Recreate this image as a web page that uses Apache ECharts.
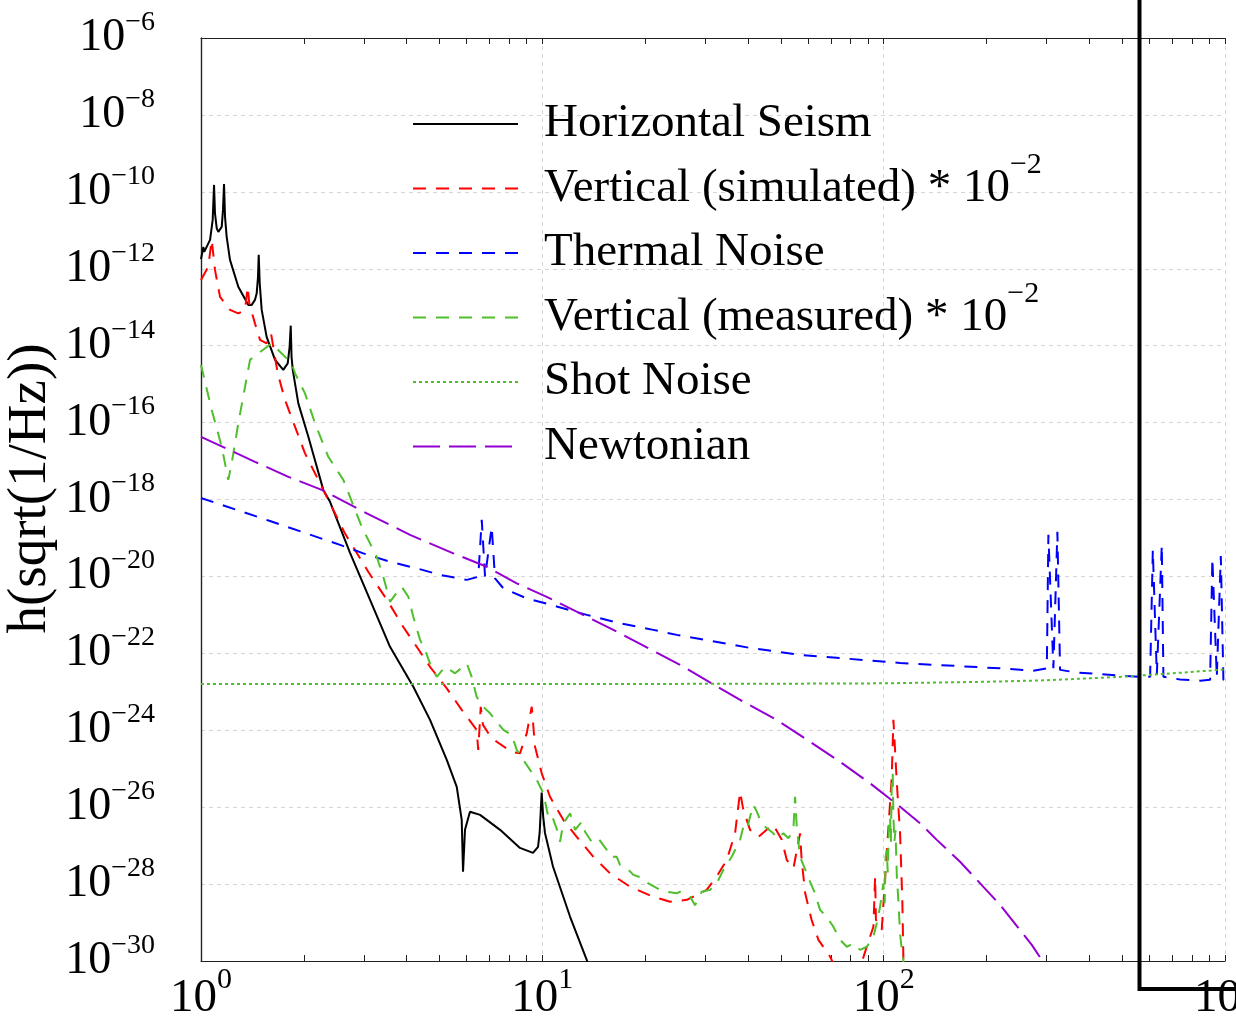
<!DOCTYPE html>
<html><head><meta charset="utf-8">
<script src="https://cdn.jsdelivr.net/npm/echarts@6/dist/echarts.min.js"></script>
<style>html,body{margin:0;padding:0;background:#fff}#c{width:1236px;height:1019px}</style>
</head><body><div id="c"></div>
<script>
// Frequencies in Hz, amplitudes given as log10 of h(sqrt(1/Hz)) values
const seismFreq = [1.000,1.016,1.022,1.063,1.082,1.0866,1.092,1.099,1.112,1.124,1.150,1.160,1.168,1.176,1.189,1.216,1.286,1.376,1.408,1.439,1.456,1.469,1.476,1.486,1.506,1.557,1.648,1.742,1.795,1.818,1.832,1.842,1.857,1.928,2.063,2.282,2.388,2.733,3.128,3.579,4.188,4.688,5.248,5.614,5.805,5.857,5.935,6.138,6.57,7.52,8.6,9.39,9.714,9.82,9.955,10.06,10.18,10.75,12.06,13.49,14.0];
const seismLog  = [-11.75,-11.43,-11.56,-11.25,-10.73,-10.30,-9.82,-10.56,-10.95,-11.04,-10.91,-10.47,-9.80,-10.65,-11.17,-11.77,-12.47,-12.94,-12.94,-12.81,-12.64,-12.21,-11.64,-12.38,-13.07,-13.77,-14.37,-14.63,-14.46,-14.03,-13.48,-14.29,-14.63,-15.50,-16.37,-17.75,-18.06,-19.39,-20.61,-21.83,-22.87,-23.73,-24.77,-25.47,-26.33,-27.68,-26.59,-26.12,-26.20,-26.59,-27.06,-27.19,-27.03,-26.67,-25.62,-26.25,-26.67,-27.55,-28.85,-29.97,-30.4];

const vsimFreq = [1.000,1.050,1.075,1.099,1.137,1.216,1.286,1.346,1.370,1.385,1.439,1.489,1.557,1.604,1.622,1.678,1.762,1.886,2.017,2.282,2.388,2.640,3.090,3.536,3.910,4.285,4.688,5.248,5.805,6.42,6.49,6.60,6.70,6.95,7.35,8.13,8.60,9.00,9.31,9.52,9.96,10.53,11.52,12.61,14.11,15.79,18.07,21.14,23.67,26.5,30.3,32.4,34.7,36.7,37.96,38.8,40.6,42.96,45.95,47.5,50.3,52.0,54.4,56.9,57.5,58.9,61.5,64.4,69.7,79.7,89.2,93.3,94.4,94.9,98.7,105.6,106.8,109.3,111.7,113.4,114.2,114.6];
const vsimLog  = [-12.29,-11.95,-11.25,-12.03,-12.73,-13.07,-13.16,-13.07,-12.47,-12.90,-13.42,-13.85,-13.94,-13.68,-13.94,-14.72,-15.41,-16.11,-16.80,-17.75,-18.10,-18.88,-19.88,-20.66,-21.31,-21.83,-22.35,-22.91,-23.47,-23.99,-24.51,-23.39,-23.86,-24.08,-24.30,-24.56,-24.60,-24.08,-23.39,-24.43,-25.12,-25.73,-26.33,-26.77,-27.29,-27.72,-28.07,-28.33,-28.46,-28.41,-28.15,-27.81,-27.37,-26.68,-25.60,-26.07,-26.59,-26.77,-26.55,-26.46,-26.85,-27.37,-27.59,-26.68,-27.37,-28.24,-28.93,-29.45,-29.89,-31.0,-29.63,-29.11,-27.81,-28.93,-29.19,-25.21,-23.73,-25.38,-26.68,-28.41,-29.89,-31.0];

const thermFreq = [1.000,1.593,2.555,2.99,3.579,4.285,5.015,6.004,6.49,6.645,6.795,7.107,7.268,7.687,9.0,11.02,13.49,16.89,21.14,24.76,40.6,56.9,111.7,219.3,274.5,300.6,303.8,314.2,322.8,328.7,367.9,430.5,515.6,563.9,603.4,614.5,631.3,652.9,660,738.5,845.3,904.4,918.3,946.2,972.1,989.3,1000];
const thermLog  = [-17.96,-18.56,-19.18,-19.40,-19.62,-19.79,-19.96,-20.09,-20.01,-18.53,-20.01,-18.71,-20.05,-20.31,-20.57,-20.78,-21.00,-21.22,-21.39,-21.52,-21.86,-22.04,-22.25,-22.39,-22.45,-22.39,-18.92,-22.39,-18.84,-22.43,-22.50,-22.54,-22.59,-22.61,-22.61,-19.31,-22.56,-19.18,-22.61,-22.68,-22.71,-22.69,-19.53,-22.61,-19.47,-22.69,-22.70];

const vmeasFreq = [1.000,1.075,1.150,1.202,1.230,1.286,1.346,1.392,1.472,1.611,1.704,1.844,1.886,2.017,2.158,2.36,2.612,2.957,3.091,3.272,3.421,3.579,3.702,3.873,4.05,4.188,4.383,4.532,4.688,4.904,5.187,5.365,5.549,6.004,6.210,6.42,6.715,7.028,7.687,8.134,8.414,8.797,9.204,9.629,10.07,10.41,10.65,11.14,11.27,11.52,12.06,12.47,13.05,13.34,13.95,14.59,15.44,15.79,16.52,16.89,17.68,18.48,19.77,20.44,22.13,23.15,24.76,25.32,27.09,28.02,29.31,31.0,32.43,33.91,35.88,37.96,38.81,39.71,40.6,41.51,42.48,43.44,44.93,47.52,48.62,50.83,52.58,54.38,55.01,55.64,56.89,59.52,60.87,62.95,65.11,68.12,71.22,74.53,77.98,81.53,85.3,89.22,93.29,95.46,97.6,99.8,100.7,101.3,102.1,102.8,103.6,104.4,105.0,105.6,106.3,106.8,107.5,108.3,109.3,110.4,111.7,113.0,114.2,115.0];
const vmeasLog  = [-14.50,-15.67,-16.63,-17.49,-17.06,-16.02,-15.07,-14.37,-14.20,-13.94,-14.16,-14.46,-14.72,-15.24,-16.02,-16.89,-17.49,-18.71,-19.05,-19.49,-20.01,-20.66,-20.48,-20.27,-20.53,-21.05,-21.65,-21.91,-22.26,-22.61,-22.35,-22.43,-22.52,-22.26,-22.61,-23.13,-23.39,-23.56,-23.99,-24.12,-24.51,-24.77,-25.03,-25.29,-25.64,-26.25,-26.20,-26.68,-26.90,-26.42,-26.16,-26.59,-26.38,-26.64,-26.90,-26.81,-27.11,-27.29,-27.29,-27.50,-27.59,-27.76,-27.85,-27.98,-28.15,-28.20,-28.24,-28.20,-28.33,-28.55,-28.20,-28.15,-27.98,-27.63,-27.29,-26.85,-26.51,-26.59,-26.25,-25.94,-26.11,-26.33,-26.51,-26.68,-26.81,-26.68,-26.81,-26.59,-25.73,-26.51,-27.29,-27.72,-27.94,-28.24,-28.67,-28.85,-29.11,-29.45,-29.63,-29.54,-29.71,-29.63,-29.37,-29.02,-28.59,-27.98,-28.5,-27.3,-27.11,-27.7,-26.5,-26.25,-26.9,-25.38,-25.12,-26.25,-26.9,-26.6,-27.81,-28.41,-29.28,-29.71,-29.97,-30.75];

const shotFreq = [1,10,50,100,200,300,500,700,1000];
const shotLog  = [-22.80,-22.80,-22.79,-22.78,-22.74,-22.70,-22.61,-22.52,-22.42];

const newtFreq = [1.000,1.439,1.803,2.258,3.059,4.097,5.486,6.874,8.414,10.30,12.90,16.89,25.32,38.81,48.6,60.87,74.53,91.25,111.7,127.9,143.1,167.4,219.3,271.6,290.5,307.3];
const newtLog  = [-16.37,-17.02,-17.41,-17.75,-18.36,-18.92,-19.40,-19.75,-20.18,-20.53,-20.96,-21.48,-22.30,-23.26,-23.73,-24.30,-24.82,-25.38,-25.99,-26.42,-26.85,-27.42,-28.54,-29.58,-29.97,-30.36];

// tick labels (exponents of 10)
const xTickExponents = [0,1,2,3];
const yTickExponents = [-30,-28,-26,-24,-22,-20,-18,-16,-14,-12,-10,-8,-6];

const seriesNames = ['Horizontal Seism','Vertical (simulated) * 10^-2','Thermal Noise','Vertical (measured) * 10^-2','Shot Noise','Newtonian'];

const FONT = "'Liberation Serif','Times New Roman',Times,serif";

function pairs(fr, lg){ return fr.map((f,i)=>[Math.log10(f), lg[i]]); }

// minor tick positions on the log frequency axis (1..9 per decade)
const xMinorTicks = [];
for (let d = 0; d < 3; d++) for (let k = 1; k <= 9; k++) xMinorTicks.push(Math.log10(k * Math.pow(10, d)));
xMinorTicks.push(3);

const axisCol = '#222';
const gridLine = {show:true, lineStyle:{color:'#d6d6d6', type:[4,4], width:1}};

const chart = echarts.init(document.getElementById('c'), null, {renderer:'canvas'});

function line(name, fr, lg, color, type, width){
  return {name, type:'line', data:pairs(fr,lg), showSymbol:false, symbol:'none', clip:true,
    lineStyle:{color, type, width}, itemStyle:{color}, animation:false, z:3};
}

chart.setOption({
  animation:false,
  backgroundColor:'#fff',
  grid:{left:201, top:38, right:11, bottom:58, containLabel:false, outerBoundsMode:'none'},
  xAxis:[
    {type:'value', min:0, max:3, interval:1, position:'bottom',
     axisLine:{show:true, lineStyle:{color:axisCol, width:1.2}},
     axisTick:{show:false},
     axisLabel:{show:true, margin:14, showMaxLabel:true, showMinLabel:true, hideOverlap:false,
       formatter:v=> xTickExponents.includes(v) ? '{b|10}{s|'+v+'}' : '',
       rich:{b:{fontFamily:FONT, fontSize:47, lineHeight:48, color:'#000'},
             s:{fontFamily:FONT, fontSize:30, lineHeight:10, height:10, verticalAlign:'top', color:'#000'}}},
     splitLine:gridLine},
    {type:'value', min:0, max:3, position:'bottom',
     axisLine:{show:false}, axisLabel:{show:false}, splitLine:{show:false},
     axisTick:{show:true, inside:true, length:6, customValues:xMinorTicks, lineStyle:{color:axisCol, width:1}}},
    {type:'value', min:0, max:3, position:'top',
     axisLine:{show:true, lineStyle:{color:axisCol, width:1.2}}, axisLabel:{show:false}, splitLine:{show:false},
     axisTick:{show:true, inside:true, length:6, customValues:xMinorTicks, lineStyle:{color:axisCol, width:1}}}
  ],
  yAxis:[
    {type:'value', min:-30, max:-6, interval:2, position:'left',
     axisLine:{show:true, lineStyle:{color:axisCol, width:1.2}},
     axisTick:{show:false},
     axisLabel:{show:true, margin:46,
       formatter:v=> yTickExponents.includes(v) ? '{b|10}{s|\u2212'+Math.abs(v)+'}' : '',
       rich:{b:{fontFamily:FONT, fontSize:46, lineHeight:48, color:'#000'},
             s:{fontFamily:FONT, fontSize:28, lineHeight:17, height:17, verticalAlign:'top', color:'#000'}}},
     splitLine:gridLine,
     name:'h(sqrt(1/Hz))', nameLocation:'middle', nameGap:143, nameRotate:90, nameMoveOverlap:false,
     nameTextStyle:{fontFamily:FONT, fontSize:55, color:'#000', padding:[0,0,0,22]}},
    {type:'value', min:-30, max:-6, interval:2, position:'right',
     axisLine:{show:true, lineStyle:{color:axisCol, width:1.2}},
     axisTick:{show:false}, axisLabel:{show:false}, splitLine:{show:false}}
  ],
  legend:{
    orient:'vertical', left:412, top:86, padding:0, itemGap:3,
    itemWidth:105, itemHeight:14, selectedMode:false,
    itemStyle:{opacity:0},
    data:seriesNames,
    formatter:name=>{
      const m = name.match(/^(.*) \* 10\^(-\d+)$/);
      if (m) return '{t|'+m[1]+' * 10}{s|\u2212'+m[2].slice(1)+'}';
      return '{t|'+name+'}{s| }';
    },
    textStyle:{fontFamily:FONT, fontSize:47, color:'#000', padding:[0,0,0,21],
      rich:{t:{fontFamily:FONT, fontSize:47, lineHeight:64, color:'#000'},
            s:{fontFamily:FONT, fontSize:30, lineHeight:18, height:18, verticalAlign:'top', color:'#000'}}}
  },
  series:[
    line(seriesNames[0], seismFreq, seismLog, '#000000', 'solid', 2),
    line(seriesNames[1], vsimFreq, vsimLog, '#ff0000', [13,10], 2),
    line(seriesNames[2], thermFreq, thermLog, '#0000ff', [13,10], 2),
    line(seriesNames[3], vmeasFreq, vmeasLog, '#4fbf2b', [13,10], 2),
    line(seriesNames[4], shotFreq, shotLog, '#4fbf2b', [3,3], 2),
    line(seriesNames[5], newtFreq, newtLog, '#9400d3', [27,9], 2)
  ],
  graphic:[
    {type:'polyline', z:100, silent:true,
     shape:{points:[[1139.5,0],[1139.5,989],[1240,989]]},
     style:{stroke:'#000', lineWidth:4, fill:null}}
  ]
});
</script></body></html>
